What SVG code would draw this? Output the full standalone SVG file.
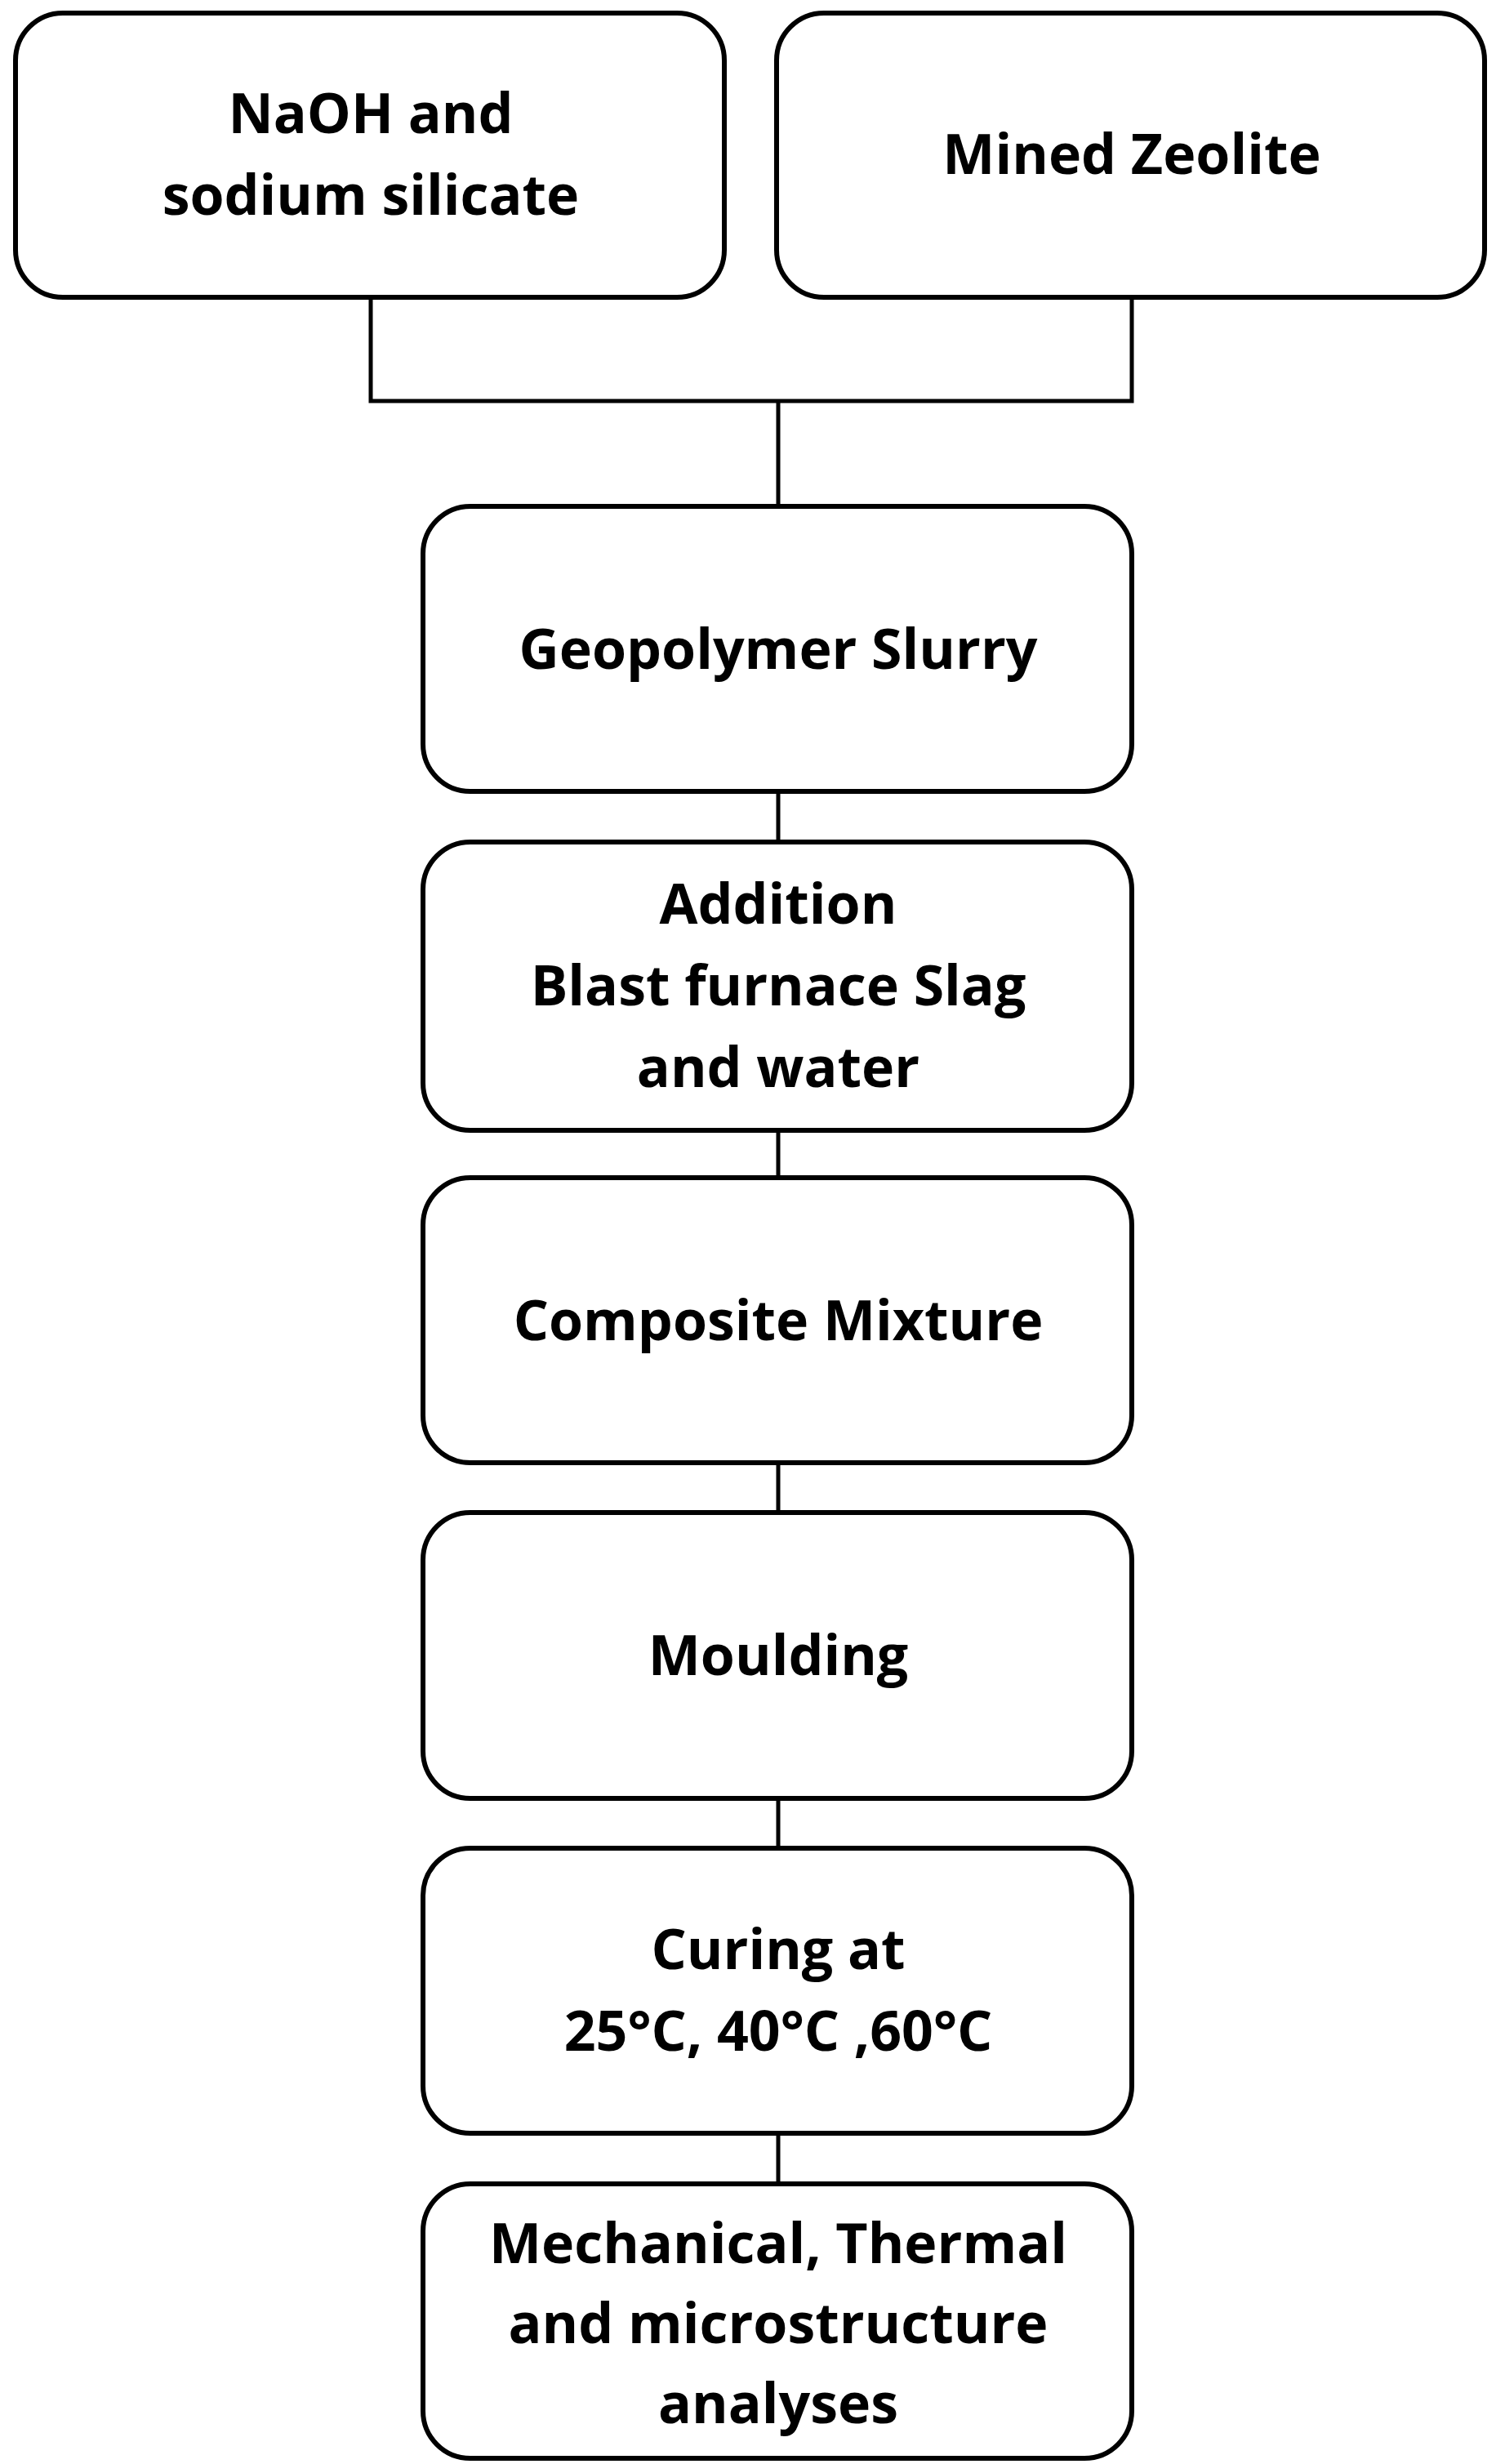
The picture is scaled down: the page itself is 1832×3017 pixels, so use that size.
<svg xmlns="http://www.w3.org/2000/svg" width="1832" height="3017" viewBox="0 0 1832 3017">
<style>
.b{fill:#fff;stroke:#000;stroke-width:6}
.t{font-family:"Open Sans",sans-serif;font-weight:bold;font-size:68px;text-anchor:middle;fill:#000}
.c{fill:none;stroke:#000;stroke-width:5}
</style>
<rect width="1832" height="3017" fill="#fff"/>
<g id="connectors">
<path class="c" d="M454 364V491H1386V364M953 491V620M953 969V1031M953 1384V1442M953 1791V1852M953 2202V2263M953 2612V2674"/>
</g>
<g id="n1"><rect class="b" x="19" y="16" width="868" height="348" rx="58"/><text class="t" x="454" y="163">NaOH and</text><text class="t" x="454" y="263">sodium silicate</text></g>
<g id="n2"><rect class="b" x="951" y="16" width="867" height="348" rx="58"/><text class="t" x="1386" y="213">Mined Zeolite</text></g>
<g id="n3"><rect class="b" x="518" y="620" width="868" height="349" rx="58"/><text class="t" x="953" y="819">Geopolymer Slurry</text></g>
<g id="n4"><rect class="b" x="518" y="1031" width="868" height="353" rx="58"/><text class="t" x="953" y="1131">Addition</text><text class="t" x="953" y="1231">Blast furnace Slag</text><text class="t" x="953" y="1331">and water</text></g>
<g id="n5"><rect class="b" x="518" y="1442" width="868" height="349" rx="58"/><text class="t" x="953" y="1641">Composite Mixture</text></g>
<g id="n6"><rect class="b" x="518" y="1852" width="868" height="350" rx="58"/><text class="t" x="953" y="2051">Moulding</text></g>
<g id="n7"><rect class="b" x="518" y="2263" width="868" height="349" rx="58"/><text class="t" x="953" y="2411">Curing at</text><text class="t" x="953" y="2511">25°C, 40°C ,60°C</text></g>
<g id="n8"><rect class="b" x="518" y="2674" width="868" height="336" rx="58"/><text class="t" x="953" y="2771">Mechanical, Thermal</text><text class="t" x="953" y="2869">and microstructure</text><text class="t" x="953" y="2967">analyses</text></g>
</svg>
